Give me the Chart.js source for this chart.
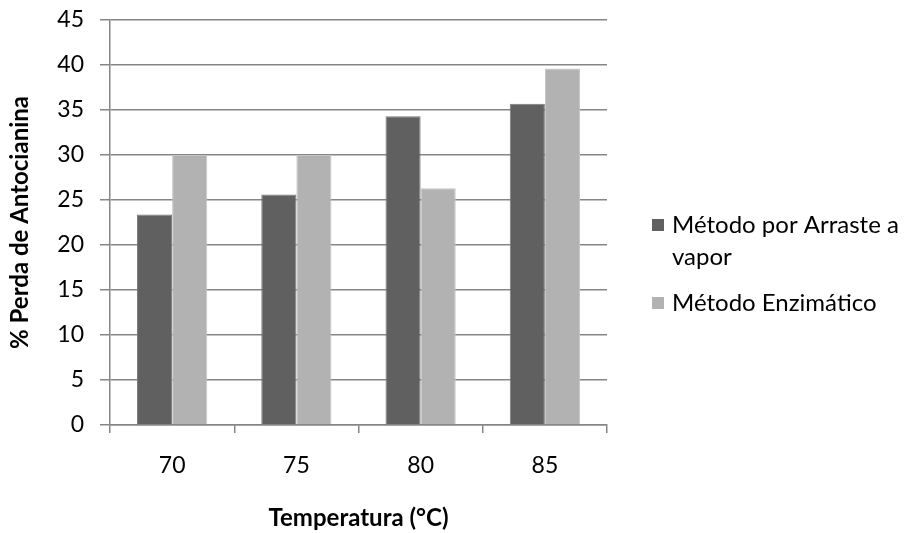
<!DOCTYPE html>
<html>
<head>
<meta charset="utf-8">
<script src="https://cdn.jsdelivr.net/npm/chart.js@4.4.1/dist/chart.umd.min.js"></script>
<style>
  html, body { margin: 0; padding: 0; background: #fff; }
  .chart-container { position: relative; width: 909px; height: 533px; }
</style>
</head>
<body>
<div class="chart-container"><canvas id="chart"></canvas></div>
<script>

const temperatures = [ '70', '75', '80', '85' ];
const arrasteVapor = [ 23.4, 25.6, 34.3, 35.7 ];
const enzimatico = [ 30.0, 30.0, 26.3, 39.6 ];
const seriesLabels = [ 'Método por Arraste a vapor', 'Método Enzimático' ];
const yTitle = '% Perda de Antocianina';
const xTitle = 'Temperatura (°C)';

const FONT = 'Lato, "Open Sans", sans-serif';

// legend on the right, wrapped like the original
const sideLegend = {
    id: 'sideLegend',
    afterDraw ( chart ) {
        const ctx = chart.ctx;
        const boxX = 652, textX = 672, maxW = 909 - textX - 2;
        const lineH = 32;
        let y = 225;
        ctx.save();
        ctx.font = '24px ' + FONT;
        ctx.textBaseline = 'middle';
        chart.data.datasets.forEach( ds => {
            const words = ds.label.split( ' ' );
            const lines = [];
            let cur = '';
            words.forEach( w => {
                const t = cur ? cur + ' ' + w : w;
                if ( ctx.measureText( t ).width > maxW && cur ) { lines.push( cur ); cur = w; }
                else cur = t;
            } );
            lines.push( cur );
            ctx.fillStyle = ds.backgroundColor;
            ctx.fillRect( boxX, y - 6, 12, 12 );
            ctx.fillStyle = '#000';
            lines.forEach( ( l, i ) => ctx.fillText( l, textX, y + i * lineH ) );
            y += ( lines.length - 1 ) * lineH + 46;
        } );
        ctx.restore();
    }
};

new Chart( document.getElementById( 'chart' ), {
    type: 'bar',
    data: {
        labels: temperatures,
        datasets: [ {
            label: seriesLabels[ 0 ],
            data: arrasteVapor,
            backgroundColor: '#606060',
            borderColor: '#7a7a7a',
            borderWidth: 1,
            categoryPercentage: 0.565,
            barPercentage: 1
        }, {
            label: seriesLabels[ 1 ],
            data: enzimatico,
            backgroundColor: '#b2b2b2',
            borderColor: '#c4c4c4',
            borderWidth: 1,
            categoryPercentage: 0.565,
            barPercentage: 1
        } ]
    },
    plugins: [ sideLegend ],
    options: {
        responsive: true,
        maintainAspectRatio: false,
        animation: false,
        layout: { padding: { top: 20, right: 302, left: 0, bottom: 0 } },
        plugins: {
            legend: { display: false },
            tooltip: { enabled: false }
        },
        scales: {
            x: {
                afterFit: s => { s.height = 108; },
                grid: {
                    offset: true,
                    drawOnChartArea: false,
                    color: '#868686',
                    lineWidth: 1.5,
                    tickLength: 8
                },
                border: { color: '#868686', width: 1.5 },
                ticks: { color: '#000', padding: 19, font: { family: FONT, size: 23 } },
                title: {
                    display: true,
                    text: xTitle,
                    color: '#000',
                    padding: { top: 2, bottom: 0 },
                    font: { family: FONT, size: 24, weight: 'bold' }
                }
            },
            y: {
                min: 0,
                max: 45,
                // fixed width, and don't let tick padding push the plot top down
                afterFit: s => { s.width = 110; s.paddingTop = 0; s.paddingBottom = 0; },
                grid: { color: '#868686', lineWidth: 1.5, tickLength: 10 },
                border: { color: '#868686', width: 1.5 },
                ticks: { stepSize: 5, color: '#000', padding: 16, font: { family: FONT, size: 23 } },
                title: {
                    display: true,
                    text: yTitle,
                    color: '#000',
                    padding: { top: 6, bottom: 0 },
                    font: { family: FONT, size: 24, weight: 'bold' }
                }
            }
        }
    }
} );

</script>
</body>
</html>
